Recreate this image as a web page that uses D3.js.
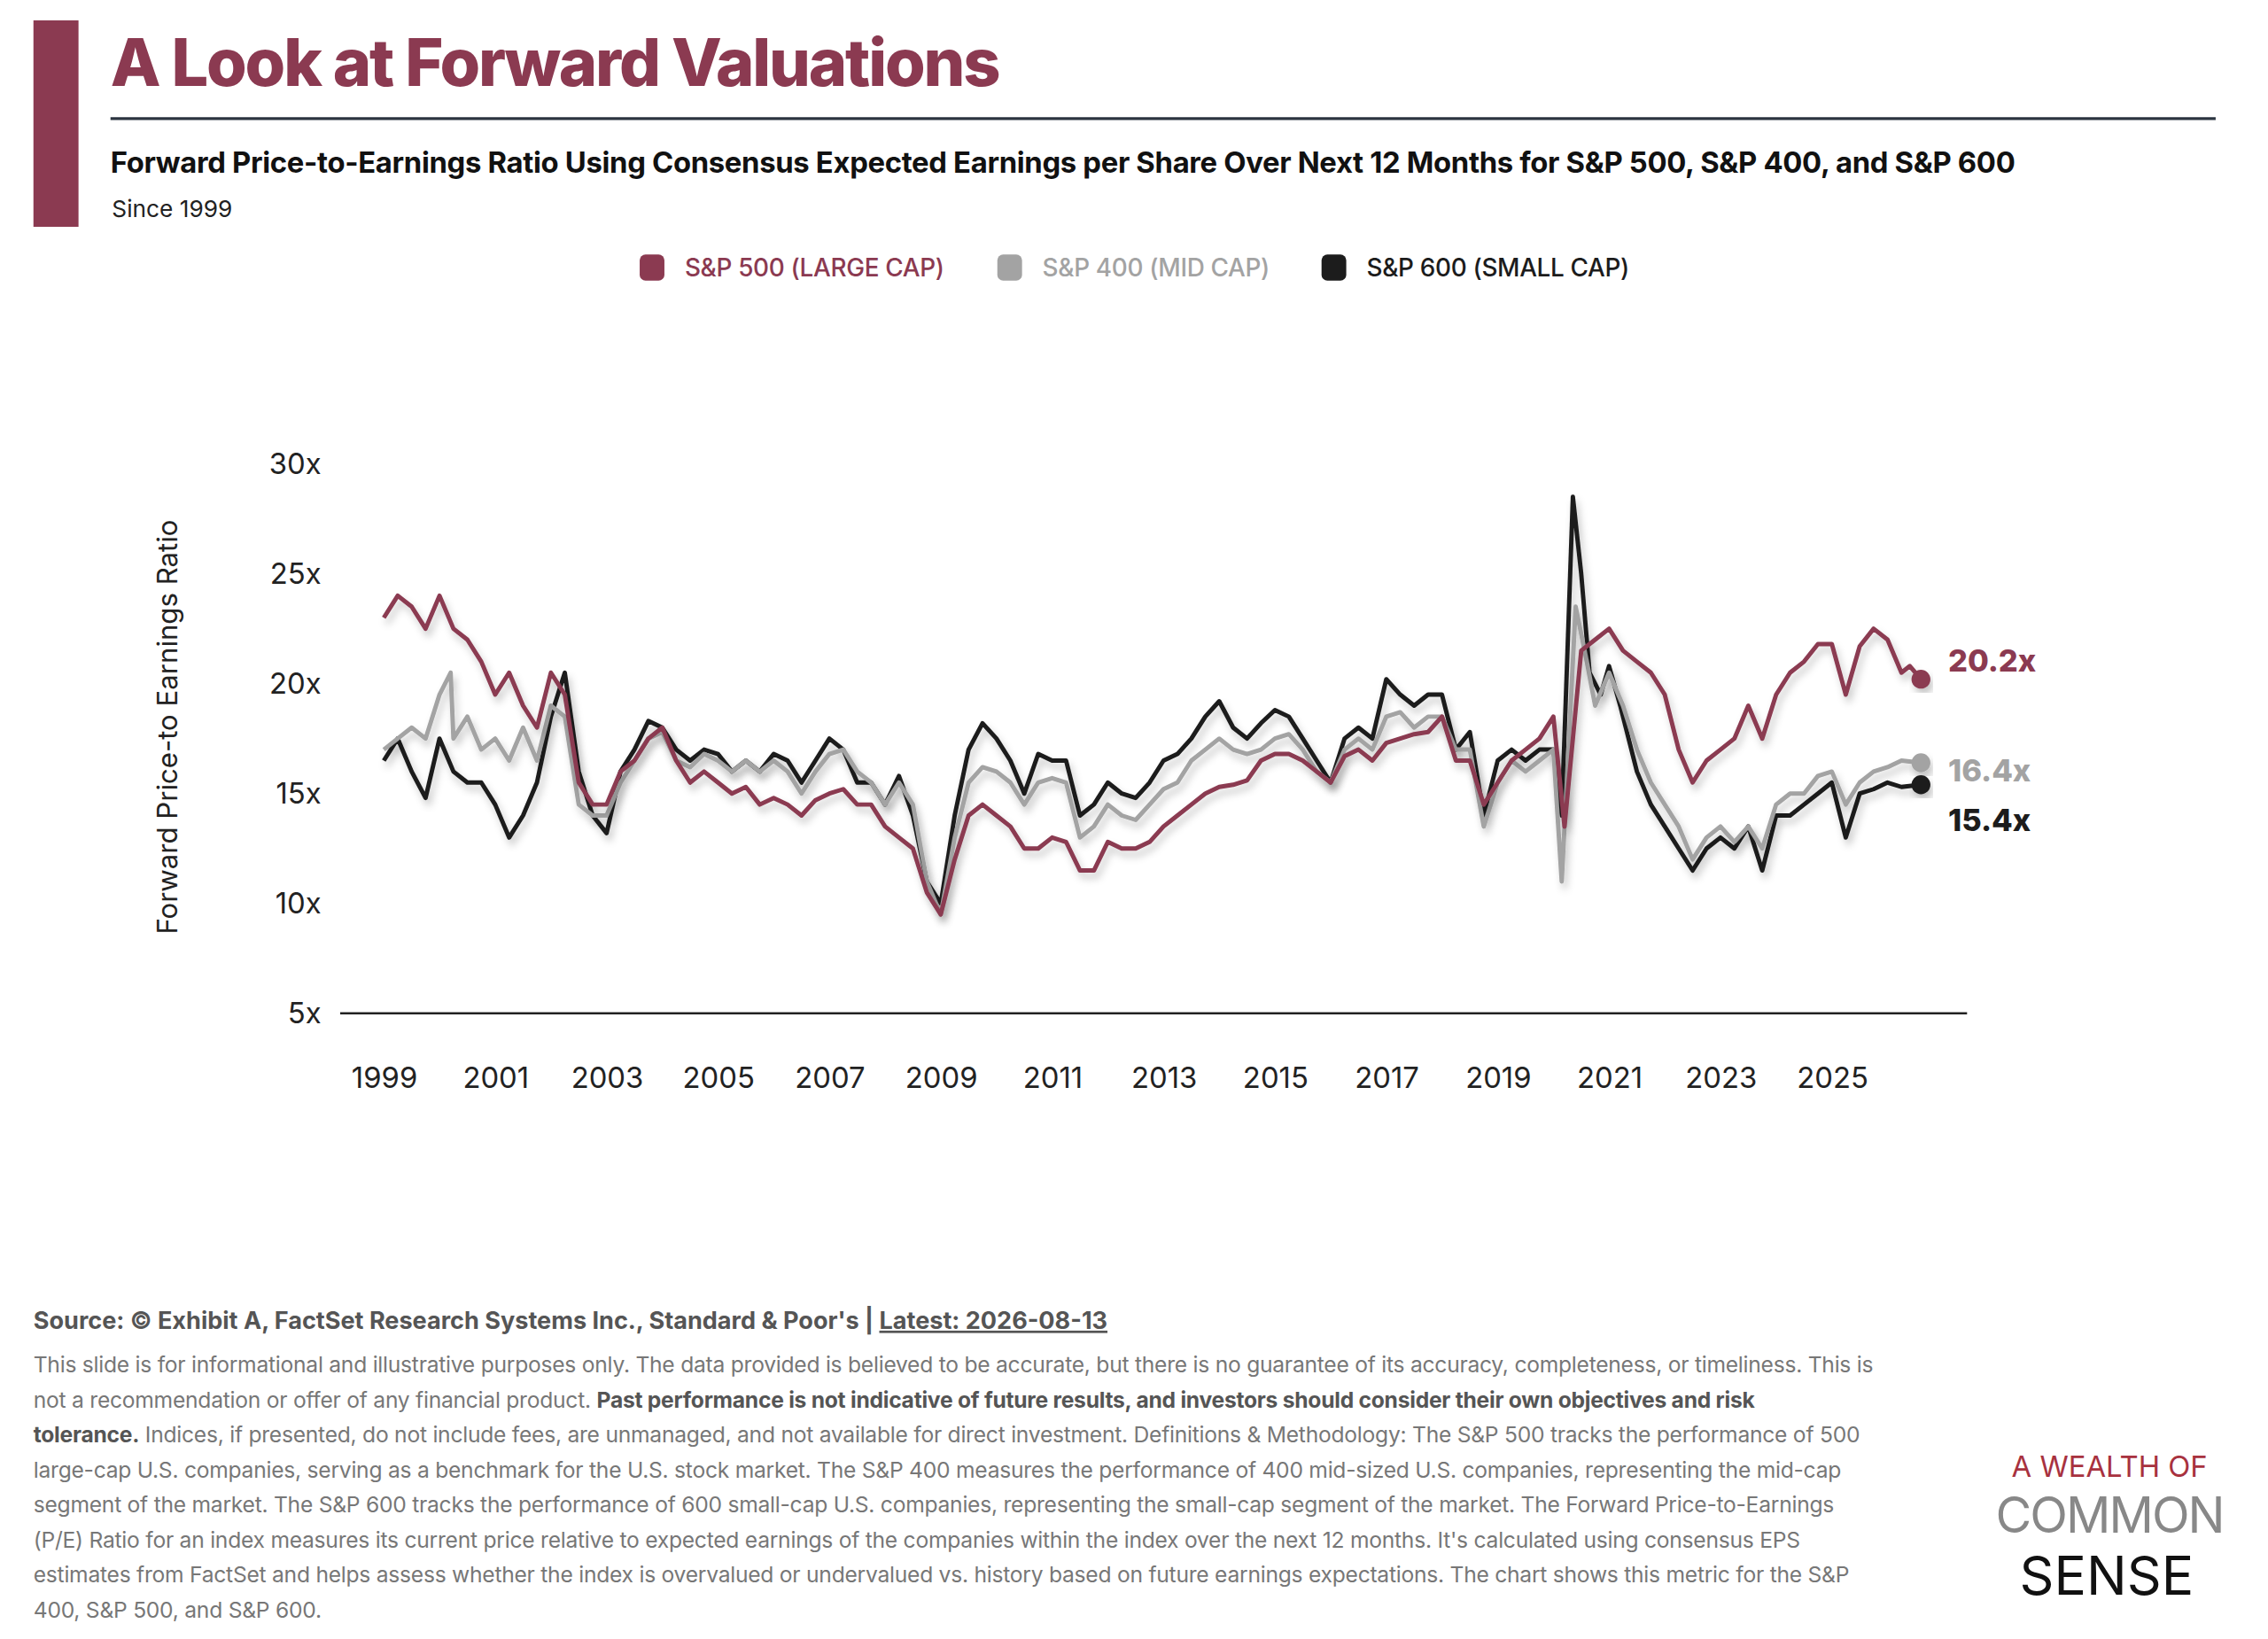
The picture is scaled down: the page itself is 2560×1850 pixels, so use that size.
<!DOCTYPE html>
<html><head><meta charset="utf-8">
<script src="https://cdn.jsdelivr.net/npm/d3@7"></script>
<style>
body{margin:0;background:#fff;}
svg{display:block;font-family:Inter,"Noto Sans",sans-serif;}
</style></head>
<body>
<svg id="c" width="2560" height="1850" viewBox="0 0 1560 1127.3"></svg>
<script>
var yearTicks = [1999,2001,2003,2005,2007,2009,2011,2013,2015,2017,2019,2021,2023,2025];
var valueTicks = [5,10,15,20,25,30];

var spxT = [1999,1999.25,1999.5,1999.75,2000,2000.25,2000.5,2000.75,2001,2001.25,2001.5,2001.75,2002,2002.25,2002.5,2002.75,2003,2003.25,2003.5,2003.75,2004,2004.25,2004.5,2004.75,2005,2005.25,2005.5,2005.75,2006,2006.25,2006.5,2006.75,2007,2007.25,2007.5,2007.75,2008,2008.25,2008.5,2008.75,2009,2009.25,2009.5,2009.75,2010,2010.25,2010.5,2010.75,2011,2011.25,2011.5,2011.75,2012,2012.25,2012.5,2012.75,2013,2013.25,2013.5,2013.75,2014,2014.25,2014.5,2014.75,2015,2015.25,2015.5,2015.75,2016,2016.25,2016.5,2016.75,2017,2017.25,2017.5,2017.75,2018,2018.25,2018.5,2018.75,2019,2019.25,2019.5,2019.75,2020,2020.2,2020.5,2020.75,2021,2021.25,2021.5,2021.75,2022,2022.25,2022.5,2022.75,2023,2023.25,2023.5,2023.75,2024,2024.25,2024.5,2024.75,2025,2025.25,2025.5,2025.75,2026,2026.25,2026.4,2026.6];
var spxV = [23,24,23.5,22.5,24,22.5,22,21,19.5,20.5,19,18,20.5,19.5,15.5,14.5,14.5,16,16.5,17.5,18,16.5,15.5,16,15.5,15,15.3,14.5,14.8,14.5,14,14.7,15,15.2,14.5,14.5,13.5,13,12.5,10.5,9.5,12,14,14.5,14,13.5,12.5,12.5,13,12.8,11.5,11.5,12.8,12.5,12.5,12.8,13.5,14,14.5,15,15.3,15.4,15.6,16.5,16.8,16.8,16.5,16,15.5,16.7,17,16.5,17.3,17.5,17.7,17.8,18.5,16.5,16.5,14.5,15.5,16.5,17,17.5,18.5,13.5,21.5,22,22.5,21.5,21,20.5,19.5,17,15.5,16.5,17,17.5,19,17.5,19.5,20.5,21,21.8,21.8,19.5,21.7,22.5,22,20.5,20.8,20.2];

var midT = [1999,1999.25,1999.5,1999.75,2000,2000.2,2000.25,2000.5,2000.75,2001,2001.25,2001.5,2001.75,2002,2002.25,2002.5,2002.75,2003,2003.25,2003.5,2003.75,2004,2004.25,2004.5,2004.75,2005,2005.25,2005.5,2005.75,2006,2006.25,2006.5,2006.75,2007,2007.25,2007.5,2007.75,2008,2008.25,2008.5,2008.75,2009,2009.25,2009.5,2009.75,2010,2010.25,2010.5,2010.75,2011,2011.25,2011.5,2011.75,2012,2012.25,2012.5,2012.75,2013,2013.25,2013.5,2013.75,2014,2014.25,2014.5,2014.75,2015,2015.25,2015.5,2015.75,2016,2016.25,2016.5,2016.75,2017,2017.25,2017.5,2017.75,2018,2018.25,2018.5,2018.75,2019,2019.25,2019.5,2019.75,2020,2020.15,2020.4,2020.6,2020.75,2021,2021.25,2021.5,2021.75,2022,2022.25,2022.5,2022.75,2023,2023.25,2023.5,2023.75,2024,2024.25,2024.5,2024.75,2025,2025.25,2025.5,2025.75,2026,2026.25,2026.6];
var midV = [17,17.5,18,17.5,19.5,20.5,17.5,18.5,17,17.5,16.5,18,16.5,19,18.5,14.5,14,14,15.5,16.5,17.5,17.8,16.5,16.2,16.8,16.5,16,16.5,16,16.5,16,15,16,16.8,17,16,15.5,14.5,15.5,14.5,11,9.5,13,15.5,16.2,16,15.5,14.5,15.5,15.7,15.5,13,13.5,14.5,14,13.8,14.5,15.2,15.5,16.5,17,17.5,17,16.8,17,17.5,17.7,17,16,15.5,17,17.5,17,18.5,18.7,18,18.5,18.5,17,17,13.5,15.5,16.5,16,16.5,17,11,23.5,21,19,20.5,19,17,15.5,14.5,13.5,12,13,13.5,12.8,13.5,12.5,14.5,15,15,15.8,16,14.5,15.5,16,16.2,16.5,16.4];

var smlT = [1999,1999.25,1999.5,1999.75,2000,2000.25,2000.5,2000.75,2001,2001.25,2001.5,2001.75,2002,2002.25,2002.5,2002.75,2003,2003.25,2003.5,2003.75,2004,2004.25,2004.5,2004.75,2005,2005.25,2005.5,2005.75,2006,2006.25,2006.5,2006.75,2007,2007.25,2007.5,2007.75,2008,2008.25,2008.5,2008.75,2009,2009.25,2009.5,2009.75,2010,2010.25,2010.5,2010.75,2011,2011.25,2011.5,2011.75,2012,2012.25,2012.5,2012.75,2013,2013.25,2013.5,2013.75,2014,2014.25,2014.5,2014.75,2015,2015.25,2015.5,2015.75,2016,2016.25,2016.5,2016.75,2017,2017.25,2017.5,2017.75,2018,2018.25,2018.5,2018.75,2019,2019.25,2019.5,2019.75,2020,2020.15,2020.35,2020.5,2020.65,2020.85,2021,2021.2,2021.5,2021.75,2022,2022.25,2022.5,2022.75,2023,2023.25,2023.5,2023.75,2024,2024.25,2024.5,2024.75,2025,2025.25,2025.5,2025.75,2026,2026.25,2026.6];
var smlV = [16.5,17.5,16,14.8,17.5,16,15.5,15.5,14.5,13,14,15.5,18.5,20.5,16,14,13.2,16,17,18.3,18,17,16.5,17,16.8,16,16.5,16,16.8,16.5,15.5,16.5,17.5,17,15.5,15.5,14.5,15.8,14,11,10,14,17,18.2,17.5,16.5,15,16.8,16.5,16.5,14,14.5,15.5,15,14.8,15.5,16.5,16.8,17.5,18.5,19.2,18,17.5,18.2,18.8,18.5,17.5,16.5,15.5,17.5,18,17.5,20.2,19.5,19,19.5,19.5,17,17.8,14,16.5,17,16.5,17,17,14,28.5,25,20.5,19.5,20.8,19,16,14.5,13.5,12.5,11.5,12.5,13,12.5,13.5,11.5,14,14,14.5,15,15.5,13,15,15.2,15.5,15.3,15.4];

var series = [
  {name:"S&P 500 (LARGE CAP)", t:spxT, v:spxV, color:"#8b3a51", label:"20.2x", dy:-5},
  {name:"S&P 400 (MID CAP)", t:midT, v:midV, color:"#a3a3a3", label:"16.4x", dy:13},
  {name:"S&P 600 (SMALL CAP)", t:smlT, v:smlV, color:"#1c1c1c", label:"15.4x", dy:32}
];

var svg = d3.select("#c");
var red = "#8b3a51";

// header
svg.append("rect").attr("x",23).attr("y",14).attr("width",31).attr("height",142).attr("fill",red);
svg.append("text").attr("x",76).attr("y",59).text("A Look at Forward Valuations")
  .attr("font-size",45).attr("font-weight",800).attr("letter-spacing",-1.3).attr("fill",red);
svg.append("line").attr("x1",76).attr("x2",1524).attr("y1",81.5).attr("y2",81.5).attr("stroke","#2b3440").attr("stroke-width",2);
svg.append("text").attr("x",76).attr("y",119).attr("font-size",20).attr("font-weight",700).attr("fill","#111")
  .attr("letter-spacing",-0.2)
  .text("Forward Price-to-Earnings Ratio Using Consensus Expected Earnings per Share Over Next 12 Months for S&P 500, S&P 400, and S&P 600");
svg.append("text").attr("x",77).attr("y",149).attr("font-size",16).attr("fill","#222").text("Since 1999");

// legend
var legX = [440, 686, 909];
series.forEach(function(s,i){
  var g = svg.append("g").attr("transform","translate("+legX[i]+",184)");
  g.append("rect").attr("x",0).attr("y",-9).attr("width",17).attr("height",18).attr("rx",4).attr("fill",s.color);
  g.append("text").attr("x",31).attr("y",6).attr("font-size",17).attr("font-weight",500).attr("fill",s.color).attr("letter-spacing",-0.2).text(s.name);
});

// scales
var x = d3.scaleLinear().domain([1999,2025]).range([264,1260]);
var y = d3.scaleLinear().domain([5,30]).range([697,319]);

var defs = svg.append("defs");
var f = defs.append("filter").attr("id","sh").attr("x","-10%").attr("y","-10%").attr("width","120%").attr("height","130%");
f.append("feDropShadow").attr("dx",2).attr("dy",4).attr("stdDeviation",2.5).attr("flood-color","#000").attr("flood-opacity",0.22);

// y axis
var yAxis = d3.axisLeft(y).tickValues(valueTicks).tickSize(0).tickFormat(function(d){return d+"x";});
var ya = svg.append("g").attr("transform","translate(224,0)").call(yAxis);
ya.select(".domain").remove();
ya.selectAll("text").attr("font-size",20).attr("fill","#222").attr("font-family","Inter,sans-serif");

// x axis
var xAxis = d3.axisBottom(x).tickValues(yearTicks).tickSize(0).tickFormat(d3.format("d"));
var xa = svg.append("g").attr("transform","translate(0,697)").call(xAxis);
xa.select(".domain").remove();
xa.selectAll("text").attr("font-size",20).attr("fill","#222").attr("dy","2.4em").attr("font-family","Inter,sans-serif");
svg.append("line").attr("x1",234).attr("x2",1353).attr("y1",697).attr("y2",697).attr("stroke","#222").attr("stroke-width",1.5);

svg.append("text").attr("transform","translate(122,500) rotate(-90)").attr("text-anchor","middle")
  .attr("font-size",19).attr("fill","#222").text("Forward Price-to Earnings Ratio");

// lines, red drawn last so it sits on top
var line = d3.line().x(function(d){return x(d[0]);}).y(function(d){return y(d[1]);});
[2,1,0].forEach(function(i){
  var s = series[i];
  var pts = d3.zip(s.t, s.v);
  svg.append("path").datum(pts).attr("d",line).attr("fill","none").attr("stroke",s.color)
    .attr("stroke-width",3).attr("stroke-linejoin","round").attr("filter","url(#sh)");
});
series.forEach(function(s){
  var lt = s.t[s.t.length-1], lv = s.v[s.v.length-1];
  svg.append("circle").attr("cx",x(lt)).attr("cy",y(lv)).attr("r",6.5).attr("fill",s.color).attr("filter","url(#sh)");
  svg.append("text").attr("x",1340).attr("y",y(lv)+s.dy).attr("font-size",21).attr("font-weight",800)
    .attr("fill",s.color).text(s.label);
});

// footer
var src = svg.append("text").attr("x",23).attr("y",914).attr("font-size",16.5).attr("font-weight",700).attr("fill","#555");
src.append("tspan").text("Source: © Exhibit A, FactSet Research Systems Inc., Standard & Poor's | ");
src.append("tspan").attr("text-decoration","underline").text("Latest: 2026-08-13");

var disc = [
  [["This slide is for informational and illustrative purposes only. The data provided is believed to be accurate, but there is no guarantee of its accuracy, completeness, or timeliness. This is",0]],
  [["not a recommendation or offer of any financial product. ",0],["Past performance is not indicative of future results, and investors should consider their own objectives and risk",1]],
  [["tolerance.",1],[" Indices, if presented, do not include fees, are unmanaged, and not available for direct investment. Definitions & Methodology: The S&P 500 tracks the performance of 500",0]],
  [["large-cap U.S. companies, serving as a benchmark for the U.S. stock market. The S&P 400 measures the performance of 400 mid-sized U.S. companies, representing the mid-cap",0]],
  [["segment of the market. The S&P 600 tracks the performance of 600 small-cap U.S. companies, representing the small-cap segment of the market. The Forward Price-to-Earnings",0]],
  [["(P/E) Ratio for an index measures its current price relative to expected earnings of the companies within the index over the next 12 months. It's calculated using consensus EPS",0]],
  [["estimates from FactSet and helps assess whether the index is overvalued or undervalued vs. history based on future earnings expectations. The chart shows this metric for the S&P",0]],
  [["400, S&P 500, and S&P 600.",0]]
];
disc.forEach(function(parts,i){
  var t = svg.append("text").attr("x",23).attr("y",944+i*24.1).attr("font-size",15).attr("fill","#777").attr("letter-spacing",-0.15);
  parts.forEach(function(p){
    t.append("tspan").attr("font-weight",p[1]?700:400).attr("fill",p[1]?"#555":"#777").text(p[0]);
  });
});

// logo
svg.append("text").attr("x",1451).attr("y",1016).attr("text-anchor","middle").attr("font-size",20).attr("fill","#a8323f").text("A WEALTH OF");
svg.append("text").attr("x",1451).attr("y",1054).attr("text-anchor","middle").attr("font-size",34).attr("fill","#888").attr("letter-spacing",-1.2).text("COMMON");
svg.append("text").attr("x",1449).attr("y",1097).attr("text-anchor","middle").attr("font-size",37).attr("fill","#111").text("SENSE");
</script>
</body></html>
